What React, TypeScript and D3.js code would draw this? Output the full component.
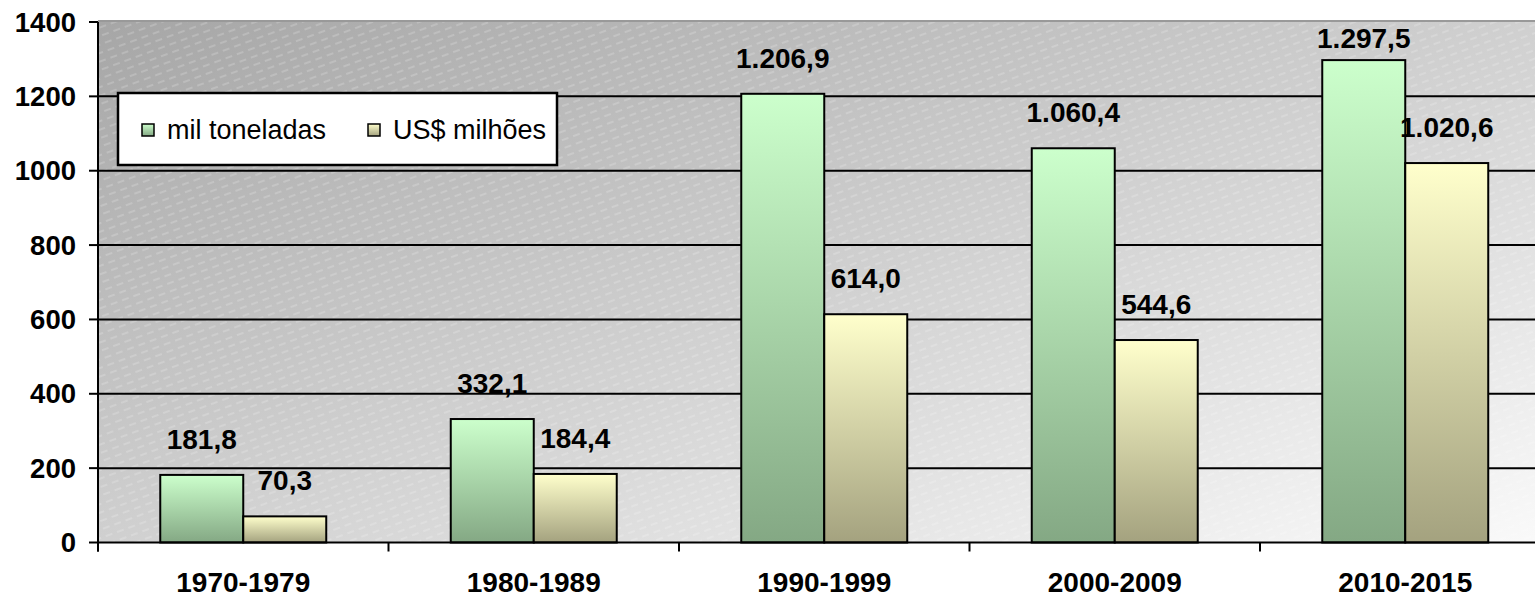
import React from 'react';
import * as d3 from 'd3';

// periods on the x axis
const categories = ['1970-1979', '1980-1989', '1990-1999', '2000-2009', '2010-2015'];
const seriesNames = ['mil toneladas', 'US$ milhões'];
const tonnes = [181.8, 332.1, 1206.9, 1060.4, 1297.5];
const usdMillions = [70.3, 184.4, 614.0, 544.6, 1020.6];
const yTicks = [0, 200, 400, 600, 800, 1000, 1200, 1400];

const W = 1535;
const H = 599;
const FONT = '"Liberation Sans", Arial, sans-serif';

const fmt = (v: number) => {
  const [int, dec] = v.toFixed(1).split('.');
  return int.replace(/\B(?=(\d{3})+(?!\d))/g, '.') + ',' + dec;
};

const App: React.FC = () => {
  const left = 98;
  const top = 22;
  const bottom = 542.5;
  const step = 290.5;

  const x = d3.scaleBand<string>()
    .domain(categories)
    .range([left, left + step * categories.length])
    .paddingInner(0.4286)
    .paddingOuter(0.2143);

  const xInner = d3.scaleBand<number>()
    .domain([0, 1])
    .range([0, x.bandwidth()]);

  const y = d3.scaleLinear().domain([0, 1400]).range([bottom, top]);

  const series = [tonnes, usdMillions];
  const fills = ['url(#gGreen)', 'url(#gYellow)'];

  const bars = categories.flatMap((c, i) =>
    series.map((s, k) => ({ c, k, v: s[i], x0: (x(c) ?? 0) + (xInner(k) ?? 0) }))
  );

  const bandEdges = d3.range(categories.length + 1).map(i => left + i * x.step());

  return (
    <svg width={W} height={H} style={{ position: 'absolute', left: 0, top: 0, overflow: 'hidden' }}>
      <defs>
        <linearGradient id="gBg" x1="0" y1="0" x2="1" y2="1">
          <stop offset="0%" stopColor="#a6a6a6" />
          <stop offset="100%" stopColor="#fafafa" />
        </linearGradient>
        <linearGradient id="gGreen" x1="0" y1="0" x2="0" y2="1">
          <stop offset="0%" stopColor="#ccffcc" />
          <stop offset="100%" stopColor="#84a884" />
        </linearGradient>
        <linearGradient id="gYellow" x1="0" y1="0" x2="0" y2="1">
          <stop offset="0%" stopColor="#ffffcc" />
          <stop offset="100%" stopColor="#a4a27f" />
        </linearGradient>
        <pattern id="hatch" patternUnits="userSpaceOnUse" width="12" height="8" patternTransform="rotate(-20)">
          <line x1="0" y1="4" x2="7" y2="4" stroke="#ffffff" strokeOpacity="0.4" strokeWidth="0.9" />
        </pattern>
      </defs>

      {/* plot area */}
      <rect x={left} y={top} width={x.range()[1] - left} height={bottom - top} fill="url(#gBg)" />
      <rect x={left} y={top} width={x.range()[1] - left} height={bottom - top} fill="url(#hatch)" />
      <line x1={left} x2={W} y1={top - 1} y2={top - 1} stroke="#999" strokeWidth={2} />

      {/* gridlines */}
      {yTicks.filter(t => t > 0 && t < 1400).map(t => (
        <line key={t} x1={left} x2={W} y1={y(t)} y2={y(t)} stroke="#000" strokeWidth={2} />
      ))}

      {/* bars */}
      {bars.map(b => (
        <rect key={b.c + b.k} x={b.x0} y={y(b.v)} width={xInner.bandwidth()} height={bottom - y(b.v)}
          fill={fills[b.k]} stroke="#000" strokeWidth={2} />
      ))}

      {/* value labels */}
      {bars.map(b => (
        <text key={'l' + b.c + b.k} x={b.x0 + xInner.bandwidth() / 2} y={Math.max(y(b.v) - 26, top + 26)}
          textAnchor="middle" fontFamily={FONT} fontWeight="bold" fontSize={28} fill="#000">
          {fmt(b.v)}
        </text>
      ))}

      {/* axes */}
      <line x1={left} x2={W} y1={bottom} y2={bottom} stroke="#000" strokeWidth={2} />
      <line x1={left} x2={left} y1={top} y2={bottom + 9} stroke="#000" strokeWidth={2} />
      {yTicks.map(t => (
        <g key={'t' + t}>
          <line x1={left - 9} x2={left} y1={y(t)} y2={y(t)} stroke="#000" strokeWidth={2} />
          <text x={76} y={y(t)} dy="0.35em" textAnchor="end" fontFamily={FONT} fontWeight="bold" fontSize={27.5} fill="#000">
            {t}
          </text>
        </g>
      ))}
      {bandEdges.map(e => (
        <line key={'e' + e} x1={e} x2={e} y1={bottom} y2={bottom + 9} stroke="#000" strokeWidth={2} />
      ))}
      {categories.map(c => (
        <text key={'c' + c} x={(x(c) ?? 0) + x.bandwidth() / 2} y={592} textAnchor="middle"
          fontFamily={FONT} fontWeight="bold" fontSize={28} fill="#000">
          {c}
        </text>
      ))}

      {/* legend */}
      <rect x={118} y={93} width={439} height={72} fill="#fff" stroke="#000" strokeWidth={2.5} />
      {seriesNames.map((n, k) => (
        <g key={n} transform={`translate(${[142, 368][k]},0)`}>
          <rect x={0} y={124} width={12} height={12} fill={fills[k]} stroke="#000" strokeWidth={1.5} />
          <text x={25} y={139} fontFamily={FONT} fontSize={27} fill="#000">{n}</text>
        </g>
      ))}
    </svg>
  );
};

export default App;
